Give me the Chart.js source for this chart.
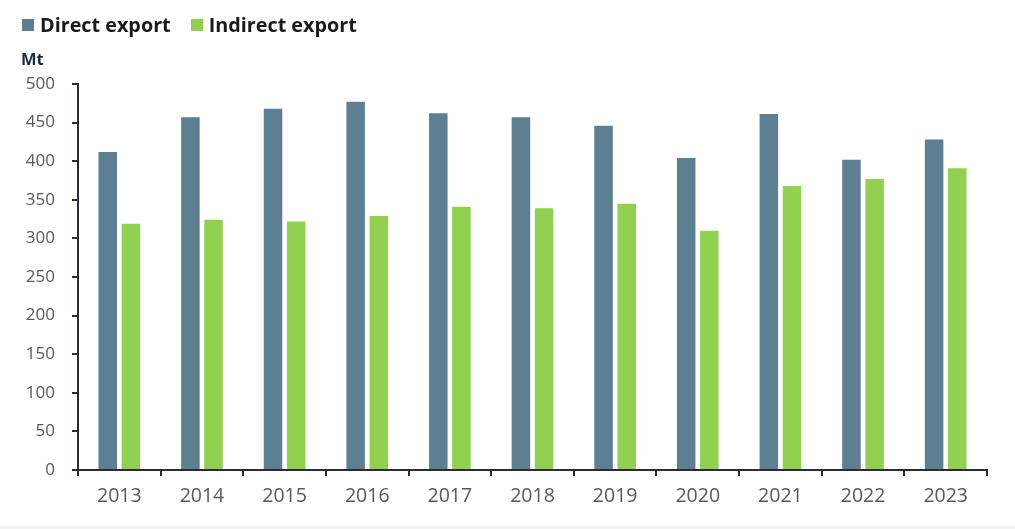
<!DOCTYPE html>
<html>
<head>
<meta charset="utf-8">
<script src="https://cdn.jsdelivr.net/npm/chart.js@4/dist/chart.umd.min.js"></script>
<style>
  html, body { margin: 0; padding: 0; background: #ffffff; }
  body { width: 1015px; height: 529px; position: relative; overflow: hidden; font-family: "Open Sans", sans-serif; }
  #wrap { position: absolute; left: 0; top: 0; width: 1015px; height: 526px; }
  #strip { position: absolute; left: 0; top: 526px; width: 1015px; height: 3px; background: #f2f2f2; }
  .legend { position: absolute; top: 11px; left: 22px; display: flex; align-items: center; font-weight: 700; font-size: 19.8px; color: #1a1a1a; }
  .legend .item { display: flex; align-items: center; margin-right: 20px; }
  .legend .sw { width: 12px; height: 12px; margin-right: 6px; }
  #unit { position: absolute; left: 21px; top: 47px; font-weight: 700; font-size: 16.5px; color: #1f2a3a; }
</style>
</head>
<body>
<div id="wrap"><canvas id="c"></canvas></div>
<div id="strip"></div>
<div class="legend">
  <div class="item"><div class="sw" style="background:#5c7f92"></div><span>Direct export</span></div>
  <div class="item"><div class="sw" style="background:#92d050"></div><span>Indirect export</span></div>
</div>
<div id="unit">Mt</div>
<script>
const categories = ["2013","2014","2015","2016","2017","2018","2019","2020","2021","2022","2023"];
const directExport = [412, 457, 468, 477, 462, 457, 446, 404, 461, 402, 428];
const indirectExport = [319, 324, 322, 329, 341, 339, 345, 310, 368, 377, 391];
const seriesNames = ["Direct export", "Indirect export"];
const seriesColors = ["#5c7f92", "#92d050"];

const axisColor = "#2b2a3d";

new Chart(document.getElementById("c"), {
  type: "bar",
  data: {
    labels: categories,
    datasets: [
      { label: seriesNames[0], data: directExport, backgroundColor: seriesColors[0], barPercentage: 0.8, categoryPercentage: 0.56 },
      { label: seriesNames[1], data: indirectExport, backgroundColor: seriesColors[1], barPercentage: 0.8, categoryPercentage: 0.56 }
    ]
  },
  options: {
    responsive: true,
    maintainAspectRatio: false,
    animation: false,
    layout: { padding: { top: 84, right: 28, bottom: 0, left: 0 } },
    plugins: { legend: { display: false }, tooltip: { enabled: false } },
    scales: {
      x: {
        grid: { display: true, drawOnChartArea: false, offset: true, tickLength: 6, color: axisColor, lineWidth: 2 },
        border: { display: true, color: axisColor, width: 2 },
        ticks: { color: "#595959", font: { family: "Open Sans", size: 19.5 }, padding: 9, maxRotation: 0 },
        afterFit: (s) => { s.height = 56; }
      },
      y: {
        min: 0, max: 500,
        grid: { display: true, drawOnChartArea: false, tickLength: 6, color: axisColor, lineWidth: 2 },
        border: { display: true, color: axisColor, width: 2 },
        ticks: { stepSize: 50, color: "#595959", font: { family: "Open Sans", size: 17 }, padding: 17 },
        afterFit: (s) => { s.width = 78; }
      }
    }
  }
});
</script>
</body>
</html>
